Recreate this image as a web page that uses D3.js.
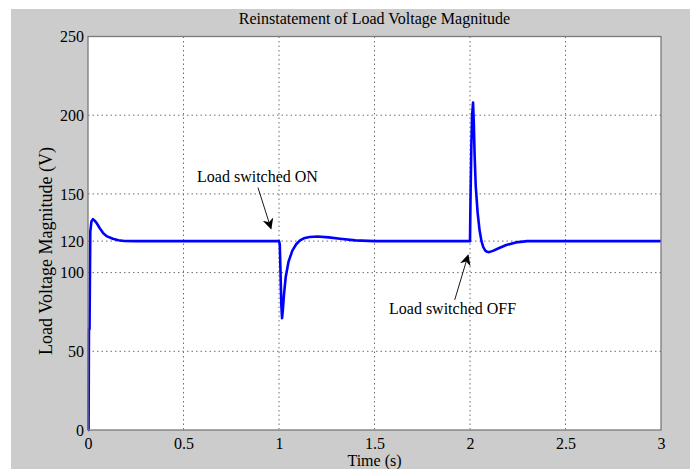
<!DOCTYPE html>
<html><head><meta charset="utf-8">
<script src="https://cdn.jsdelivr.net/npm/d3@7"></script>
<style>
html,body{margin:0;padding:0;background:#fff;}
svg{display:block;}
text{font-family:"Liberation Serif","Times New Roman",serif;fill:#000;}
</style></head>
<body>
<svg id="chart" width="690" height="469"></svg>
<script>
const title = "Reinstatement of Load Voltage Magnitude";
const xLabel = "Time (s)";
const yLabel = "Load Voltage Magnitude (V)";
const xTicks = [0, 0.5, 1, 1.5, 2, 2.5, 3];
const xTickLabels = ["0", "0.5", "1", "1.5", "2", "2.5", "3"];
const yTicks = [0, 50, 100, 120, 150, 200, 250];
const yTickLabels = ["0", "50", "100", "120", "150", "200", "250"];
const timeS = [0, 0.003, 0.005, 0.008, 0.012, 0.018, 0.026, 0.035, 0.045, 0.06, 0.08, 0.1, 0.13, 0.16, 0.19, 0.25, 1.0,
  1.004, 1.008, 1.012, 1.016, 1.02, 1.026, 1.035, 1.05, 1.07, 1.09, 1.11, 1.13, 1.16, 1.2, 1.26, 1.32, 1.4, 1.5, 2.0,
  2.003, 2.007, 2.011, 2.016, 2.02, 2.024, 2.03, 2.04, 2.05, 2.06, 2.07, 2.08, 2.09, 2.1, 2.12, 2.15, 2.19, 2.24, 2.3, 3.0];
const voltage = [0, 0, 64, 64, 126, 132.5, 134, 133, 131.5, 128.5, 125, 123, 121.5, 120.6, 120.1, 120, 120,
  118, 100, 80, 71, 76, 86, 97, 107, 114, 118, 120.5, 121.8, 122.6, 122.9, 122.4, 121.5, 120.5, 120, 120,
  150, 180, 200, 208, 195, 175, 155, 138, 127, 120, 116, 114, 113.2, 113, 113.8, 115.5, 117.5, 119.2, 120, 120];
const annotations = [
  {text: "Load switched ON", tx: 0.571, tv: 157.8, ax0: 0.89, av0: 154, ax1: 0.958, av1: 128},
  {text: "Load switched OFF", tx: 1.576, tv: 73.8, ax0: 1.92, av0: 82.7, ax1: 1.99, av1: 111}
];

const svg = d3.select("#chart");
const W = 690, H = 469;
const m = {left: 88, right: 661, top: 36.5, bottom: 430};

svg.append("rect").attr("x", 11).attr("y", 9).attr("width", W - 11).attr("height", H - 9).attr("fill", "#cccccc");

const x = d3.scaleLinear().domain([0, 3]).range([m.left, m.right]);
const y = d3.scaleLinear().domain([0, 250]).range([m.bottom, m.top]);

svg.append("rect").attr("x", m.left).attr("y", m.top)
  .attr("width", m.right - m.left).attr("height", m.bottom - m.top).attr("fill", "#fff");

// grid
const grid = svg.append("g");
grid.selectAll("line.gx").data(xTicks.slice(1, -1)).join("line")
  .attr("x1", d => x(d)).attr("x2", d => x(d)).attr("y1", m.top).attr("y2", m.bottom)
  .attr("stroke", "#6e6e6e").attr("stroke-width", 1).attr("stroke-dasharray", "1.5,3");
grid.selectAll("line.gy").data(yTicks.slice(1, -1)).join("line")
  .attr("x1", m.left).attr("x2", m.right).attr("y1", d => y(d)).attr("y2", d => y(d))
  .attr("stroke", "#6e6e6e").attr("stroke-width", 1).attr("stroke-dasharray", "1.5,3");

// axes
const xAxis = d3.axisBottom(x).tickValues(xTicks).tickFormat((d, i) => xTickLabels[i]).tickSize(0).tickPadding(5);
const yAxis = d3.axisLeft(y).tickValues(yTicks).tickFormat((d, i) => yTickLabels[i]).tickSize(0).tickPadding(4);
const gx = svg.append("g").attr("transform", `translate(0,${m.bottom})`).call(xAxis);
const gy = svg.append("g").attr("transform", `translate(${m.left},0)`).call(yAxis);
[gx, gy].forEach(g => {
  g.select(".domain").remove();
  g.selectAll("text").attr("font-size", 16).attr("font-family", "Liberation Serif, serif").attr("fill", "#000");
});
gx.selectAll("text").attr("dy", "0.85em");

// line
const line = d3.line().x((d, i) => x(timeS[i])).y(d => y(d));
svg.append("path").datum(voltage).attr("d", line)
  .attr("fill", "none").attr("stroke", "#0000ff").attr("stroke-width", 2.6).attr("stroke-linejoin", "round");

// border
svg.append("rect").attr("x", m.left).attr("y", m.top)
  .attr("width", m.right - m.left).attr("height", m.bottom - m.top)
  .attr("fill", "none").attr("stroke", "#7a7a7a").attr("stroke-width", 1.3);

// annotations
const defs = svg.append("defs");
defs.append("marker").attr("id", "arr").attr("viewBox", "0 0 10 10").attr("refX", 9).attr("refY", 5)
  .attr("markerWidth", 11).attr("markerHeight", 11).attr("markerUnits", "userSpaceOnUse").attr("orient", "auto")
  .append("path").attr("d", "M0,0 L10,5 L0,10 L3,5 Z").attr("fill", "#000");
annotations.forEach(a => {
  svg.append("text").attr("x", x(a.tx)).attr("y", y(a.tv)).attr("font-size", 16).text(a.text);
  svg.append("line").attr("x1", x(a.ax0)).attr("y1", y(a.av0)).attr("x2", x(a.ax1)).attr("y2", y(a.av1))
    .attr("stroke", "#000").attr("stroke-width", 0.9).attr("marker-end", "url(#arr)");
});

// titles
svg.append("text").attr("x", (m.left + m.right) / 2).attr("y", 24).attr("text-anchor", "middle")
  .attr("font-size", 16).text(title);
svg.append("text").attr("x", (m.left + m.right) / 2).attr("y", 466).attr("text-anchor", "middle")
  .attr("font-size", 16).text(xLabel);
svg.append("text").attr("transform", `translate(52,251) rotate(-90)`)
  .attr("text-anchor", "middle").attr("font-size", 18).text(yLabel);
</script>
</body></html>
